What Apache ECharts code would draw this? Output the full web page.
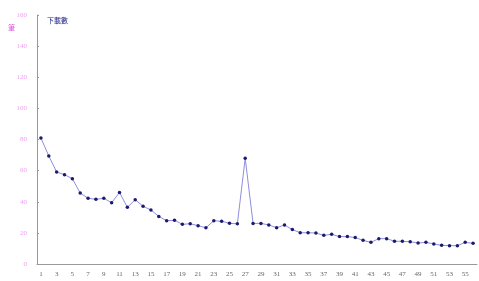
<!DOCTYPE html>
<html>
<head>
<meta charset="utf-8">
<script src="https://cdn.jsdelivr.net/npm/echarts@6/dist/echarts.min.js"></script>
<style>
  html, body { margin: 0; padding: 0; background: #fff; }
  #main { width: 479px; height: 281px; }
</style>
</head>
<body>
<div id="main"></div>
<script>
// 類別 1..56
var days = [];
for (var i = 1; i <= 56; i++) {
    days.push(String(i));
}

// 下載數
var downloads = [
    81, 69.4, 59.1, 57.4, 54.8, 45.6, 42.2, 41.6, 42.2, 39.4,
    46, 36.4, 41.3, 37.1, 34.7, 30.6, 27.8, 28.1, 25.5, 25.9,
    24.6, 23.3, 27.8, 27.4, 26.2, 25.8, 67.9, 26.1, 26.1, 25.1,
    23.3, 25.1, 22.1, 20.1, 20.1, 19.9, 18.4, 19.1, 17.6, 17.6,
    17, 15.2, 13.9, 16.3, 16.3, 14.6, 14.6, 14.3, 13.5, 13.9,
    12.9, 12, 11.8, 11.8, 13.9, 13.3
];

var yTicks = [0, 20, 40, 60, 80, 100, 120, 140, 160];

var chart = echarts.init(document.getElementById('main'));

var option = {
    backgroundColor: '#fff',
    animation: false,
    title: {
        text: '下載數',
        left: 42,
        top: 12,
        textStyle: {
            color: '#1a1a80',
            fontSize: 7,
            fontWeight: 'normal',
            fontFamily: 'Noto Sans CJK TC'
        }
    },
    grid: {
        left: 37,
        right: 2,
        top: 15,
        bottom: 17
    },
    xAxis: {
        type: 'category',
        data: days,
        boundaryGap: true,
        axisLine: { lineStyle: { color: '#999', width: 1 } },
        axisTick: {
            inside: true,
            alignWithLabel: true,
            interval: 0,
            length: 2,
            lineStyle: { color: '#aaa' }
        },
        axisLabel: {
            interval: 1,
            color: '#666',
            fontSize: 7,
            margin: 7,
            fontFamily: 'Liberation Serif'
        }
    },
    yAxis: {
        type: 'value',
        min: yTicks[0],
        max: yTicks[yTicks.length - 1],
        interval: 20,
        name: '筆',
        nameLocation: 'end',
        nameGap: 0,
        nameTextStyle: {
            color: '#e055e0',
            fontSize: 7,
            align: 'right',
            padding: [0, 22, -16, 0],
            fontFamily: 'Noto Sans CJK TC'
        },
        axisLine: { show: true, lineStyle: { color: '#999', width: 1 } },
        axisTick: {
            show: true,
            inside: true,
            length: 2,
            lineStyle: { color: '#999' }
        },
        splitLine: { show: false },
        axisLabel: {
            color: '#f0a0f0',
            fontSize: 7,
            margin: 10,
            fontFamily: 'Liberation Serif'
        }
    },
    series: [{
        name: '下載數',
        type: 'line',
        data: downloads,
        symbol: 'circle',
        symbolSize: 3.5,
        lineStyle: { color: '#8f8fdc', width: 1 },
        itemStyle: { color: '#1a1a70' }
    }]
};

chart.setOption(option);
</script>
</body>
</html>
